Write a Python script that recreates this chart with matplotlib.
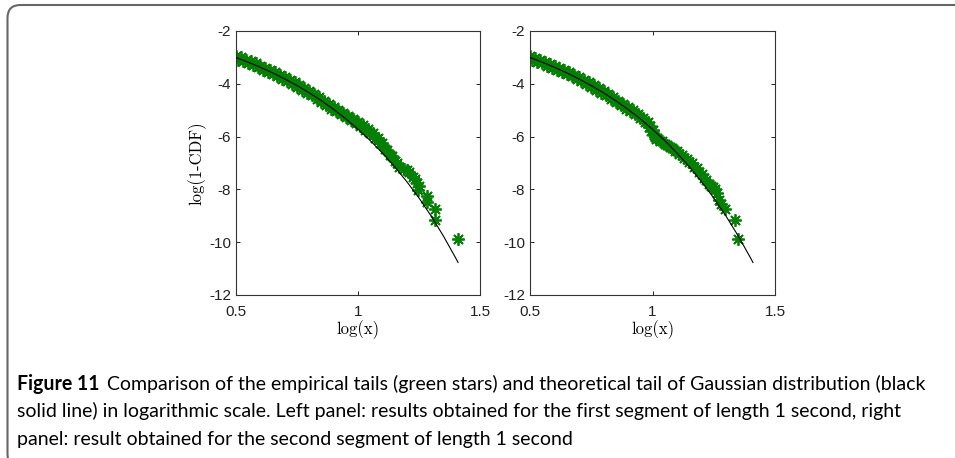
import matplotlib
matplotlib.use("Agg")
import matplotlib.pyplot as plt
from matplotlib import font_manager
from matplotlib.patches import FancyBboxPatch
from matplotlib.transforms import IdentityTransform

# ---------------- data ----------------
# theoretical Gaussian tail (black line), log scale
theory_x = [0.50, 0.55, 0.60, 0.65, 0.70, 0.75, 0.80, 0.85, 0.90, 0.95, 1.00,
            1.05, 1.10, 1.15, 1.20, 1.25, 1.30, 1.35, 1.40, 1.41]
theory_y = [-3.004, -3.181, -3.375, -3.586, -3.817, -4.067, -4.340, -4.641, -4.968,
            -5.327, -5.720, -6.150, -6.621, -7.138, -7.706, -8.326, -9.010, -9.765,
            -10.592, -10.768]

# empirical tail, first segment (left panel)
left_x = [0.50, 0.51, 0.52, 0.53, 0.54, 0.55, 0.56, 0.57, 0.58, 0.59, 0.60, 0.61, 0.62,
          0.63, 0.64, 0.65, 0.66, 0.67, 0.68, 0.69, 0.70, 0.71, 0.72, 0.73, 0.74, 0.75,
          0.76, 0.77, 0.78, 0.79, 0.80, 0.81, 0.82, 0.83, 0.84, 0.85, 0.86, 0.87, 0.88,
          0.89, 0.90, 0.91, 0.92, 0.93, 0.94, 0.95, 0.96, 0.97, 0.98, 0.99, 1.00, 1.01,
          1.02, 1.03, 1.04, 1.05, 1.06, 1.07, 1.08, 1.09, 1.10, 1.11, 1.12, 1.13, 1.14,
          1.15, 1.16, 1.17, 1.19, 1.20, 1.211, 1.226, 1.235, 1.240, 1.247, 1.250,
          1.281, 1.284, 1.316, 1.316, 1.411]
left_y = [-2.93, -3.08, -3.00, -3.15, -3.08, -3.22, -3.15, -3.30, -3.23, -3.38, -3.31,
          -3.46, -3.39, -3.54, -3.47, -3.63, -3.56, -3.72, -3.66, -3.81, -3.75, -3.91,
          -3.85, -4.01, -3.95, -4.11, -4.05, -4.22, -4.16, -4.33, -4.27, -4.44, -4.39,
          -4.56, -4.51, -4.68, -4.64, -4.81, -4.77, -4.94, -4.87, -5.02, -4.99, -5.13,
          -5.12, -5.25, -5.23, -5.36, -5.32, -5.48, -5.44, -5.61, -5.57, -5.74, -5.70,
          -5.87, -5.86, -6.06, -6.05, -6.25, -6.26, -6.46, -6.49, -6.69, -6.74, -6.94,
          -6.99, -7.17, -7.22, -7.25, -7.33, -7.52, -7.62, -7.74, -8.02, -7.88,
          -8.25, -8.47, -8.76, -9.16, -9.88]

# empirical tail, second segment (right panel)
right_x = [0.50, 0.51, 0.52, 0.53, 0.54, 0.55, 0.56, 0.57, 0.58, 0.59, 0.60, 0.61, 0.62,
           0.63, 0.64, 0.65, 0.66, 0.67, 0.68, 0.69, 0.70, 0.71, 0.72, 0.73, 0.74, 0.75,
           0.76, 0.77, 0.78, 0.79, 0.80, 0.81, 0.82, 0.83, 0.84, 0.85, 0.86, 0.87, 0.88,
           0.89, 0.90, 0.91, 0.92, 0.93, 0.94, 0.95, 0.96, 0.97, 0.98, 0.985, 0.99,
           0.995, 1.00, 1.005, 1.01, 1.015, 1.02, 1.03, 1.04, 1.05, 1.06, 1.07, 1.08,
           1.09, 1.10, 1.11, 1.12, 1.13, 1.14, 1.15, 1.16, 1.17, 1.18, 1.19, 1.20, 1.21,
           1.22, 1.23, 1.24, 1.247, 1.255, 1.265, 1.271, 1.280, 1.294, 1.337, 1.349]
right_y = [-2.96, -3.09, -3.01, -3.16, -3.09, -3.23, -3.16, -3.31, -3.24, -3.39, -3.32,
           -3.47, -3.40, -3.55, -3.48, -3.63, -3.57, -3.72, -3.66, -3.81, -3.75, -3.91,
           -3.85, -4.01, -3.95, -4.11, -4.05, -4.22, -4.16, -4.33, -4.27, -4.44, -4.39,
           -4.56, -4.51, -4.68, -4.64, -4.81, -4.77, -4.94, -4.87, -5.04, -4.99, -5.16,
           -5.14, -5.29, -5.29, -5.46, -5.46, -5.62, -5.60, -5.80, -5.75, -5.95, -6.00,
           -6.08, -6.05, -6.15, -6.18, -6.28, -6.30, -6.40, -6.42, -6.53, -6.56, -6.66,
           -6.68, -6.80, -6.84, -6.95, -7.00, -7.14, -7.20, -7.35, -7.42, -7.57, -7.64,
           -7.79, -7.86, -7.90, -8.00, -8.12, -8.40, -8.55, -8.75, -9.16, -9.88]

x_ticks = [0.5, 1, 1.5]
x_tick_labels = ["0.5", "1", "1.5"]
y_ticks = [-12, -10, -8, -6, -4, -2]
y_tick_labels = ["-12", "-10", "-8", "-6", "-4", "-2"]
x_label = "log(x)"
y_label = "log(1-CDF)"
caption_bold = "Figure 11"
caption_lines = [
    "Comparison of the empirical tails (green stars) and theoretical tail of Gaussian distribution (black",
    "solid line) in logarithmic scale. Left panel: results obtained for the first segment of length 1 second, right",
    "panel: result obtained for the second segment of length 1 second",
]

# ---------------- figure ----------------
W, H = 955, 458
fig = plt.figure(figsize=(W / 100, H / 100), dpi=100)
fig.patch.set_facecolor("white")

green = "#058005"
star = (8, 2, 0)
label_font = "cmr10"
tick_font = "Liberation Sans"

def px_axes(x0, x1, ytop, ybot):
    return fig.add_axes([x0 / W, 1 - ybot / H, (x1 - x0) / W, (ybot - ytop) / H])

ax1 = px_axes(236, 480, 31, 295)
ax2 = px_axes(530, 775, 31, 295)

for ax, ex, ey in [(ax1, left_x, left_y), (ax2, right_x, right_y)]:
    ax.plot(ex, ey, linestyle="none", marker=star, markersize=9, markeredgewidth=1.3,
            color=green, zorder=2)
    ax.plot(theory_x, theory_y, color="black", linewidth=0.8, zorder=3)
    ax.set_xlim(0.5, 1.5)
    ax.set_ylim(-12, -2)
    ax.set_xticks(x_ticks)
    ax.set_xticklabels(x_tick_labels, fontfamily=tick_font, fontsize=11)
    ax.set_yticks(y_ticks)
    ax.set_yticklabels(y_tick_labels, fontfamily=tick_font, fontsize=11)
    ax.tick_params(direction="in", top=True, right=True, length=3, width=0.7,
                   colors="#222222")
    ax.tick_params(axis="x", pad=7)
    ax.tick_params(axis="y", pad=3.5)
    for sp in ax.spines.values():
        sp.set_linewidth(0.8)
        sp.set_color("#333333")
    ax.set_xlabel(x_label, fontfamily=label_font, fontsize=12, labelpad=1)

ax1.set_ylabel(y_label, fontfamily=label_font, fontsize=12, labelpad=2)

# rounded frame (open to the right / bottom)
frame = FancyBboxPatch((7.5, -9), 980, 453 - (-9),
                       boxstyle="round,pad=0,rounding_size=13",
                       transform=IdentityTransform(), facecolor="none",
                       edgecolor="#666666", linewidth=1.5, clip_on=False)
fig.add_artist(frame)

# caption font
cap_font = "Lato"
for cand in ["Liberation Sans Narrow", "Lato"]:
    try:
        font_manager.findfont(cand, fallback_to_default=False)
        cap_font = cand
        break
    except Exception:
        pass

fig.canvas.draw()
renderer = fig.canvas.get_renderer()

def make_caption(size):
    texts = []
    tb = fig.text(17 / W, 1 - 390 / H, caption_bold, fontfamily=cap_font,
                  fontweight="bold", fontsize=size, va="baseline", ha="left")
    texts.append(tb)
    bb = tb.get_window_extent(renderer)
    gap = size * 0.55
    t1 = fig.text((bb.x1 + gap) / W, 1 - 390 / H, caption_lines[0], fontfamily=cap_font,
                  fontsize=size, va="baseline", ha="left")
    texts.append(t1)
    base = [417, 445]
    for line, yb in zip(caption_lines[1:], base):
        texts.append(fig.text(17 / W, 1 - yb / H, line, fontfamily=cap_font,
                              fontsize=size, va="baseline", ha="left"))
    return texts, t1

size = 11.0
for _ in range(3):
    texts, t1 = make_caption(size)
    right_edge = t1.get_window_extent(renderer).x1
    for t in texts:
        t.remove()
    size = size * (928 - 17) / (right_edge - 17)

make_caption(size)

fig.savefig("out.png", dpi=100, facecolor="white")
